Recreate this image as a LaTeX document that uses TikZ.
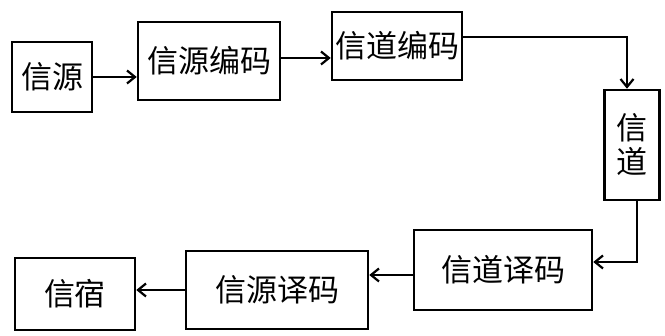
\documentclass[tikz,border=0pt]{standalone}
\usepackage{fontspec}
\newfontfamily\cjk{Noto Sans CJK SC}
\usetikzlibrary{arrows.meta}
\begin{document}
\begin{tikzpicture}[x=1pt,y=-1pt,
  blk/.style={draw=black,line width=2.5pt,inner sep=0pt,font=\cjk\fontsize{31}{34}\selectfont},
  conn/.style={draw=black,line width=2.2pt,-{Straight Barb[length=8pt,width=13pt]}}]
\useasboundingbox (0,0) rectangle (665,336);
\node[blk,minimum width=80pt,minimum height=70pt] (src) at (52,77) {信源};
\node[blk,minimum width=142pt,minimum height=78pt] (senc) at (209,61) {信源编码};
\node[blk,minimum width=130pt,minimum height=68pt] (cenc) at (397,46) {信道编码};
\node[blk,minimum width=55pt,minimum height=110pt,align=center] (chan) at (632,145) {信\\道};
\node[blk,minimum width=178pt,minimum height=80pt] (cdec) at (503,270) {信道译码};
\node[blk,minimum width=182pt,minimum height=78pt] (sdec) at (277,290) {信源译码};
\node[blk,minimum width=120pt,minimum height=72pt] (dst) at (75,294) {信宿};
\draw[conn] (src.east |- 0,77) -- (senc.west |- 0,77);
\draw[conn] (senc.east |- 0,58) -- (cenc.west |- 0,58);
\coordinate (c1) at (627,37);
\draw[conn] (cenc.east |- c1) -- (c1) -- (c1 |- chan.north);
\coordinate (c2) at (637,262);
\draw[conn] (c2 |- chan.south) -- (c2) -- (cdec.east |- c2);
\draw[conn] (cdec.west |- 0,275) -- (sdec.east |- 0,275);
\draw[conn] (sdec.west |- 0,290) -- (dst.east |- 0,290);
\end{tikzpicture}
\end{document}
